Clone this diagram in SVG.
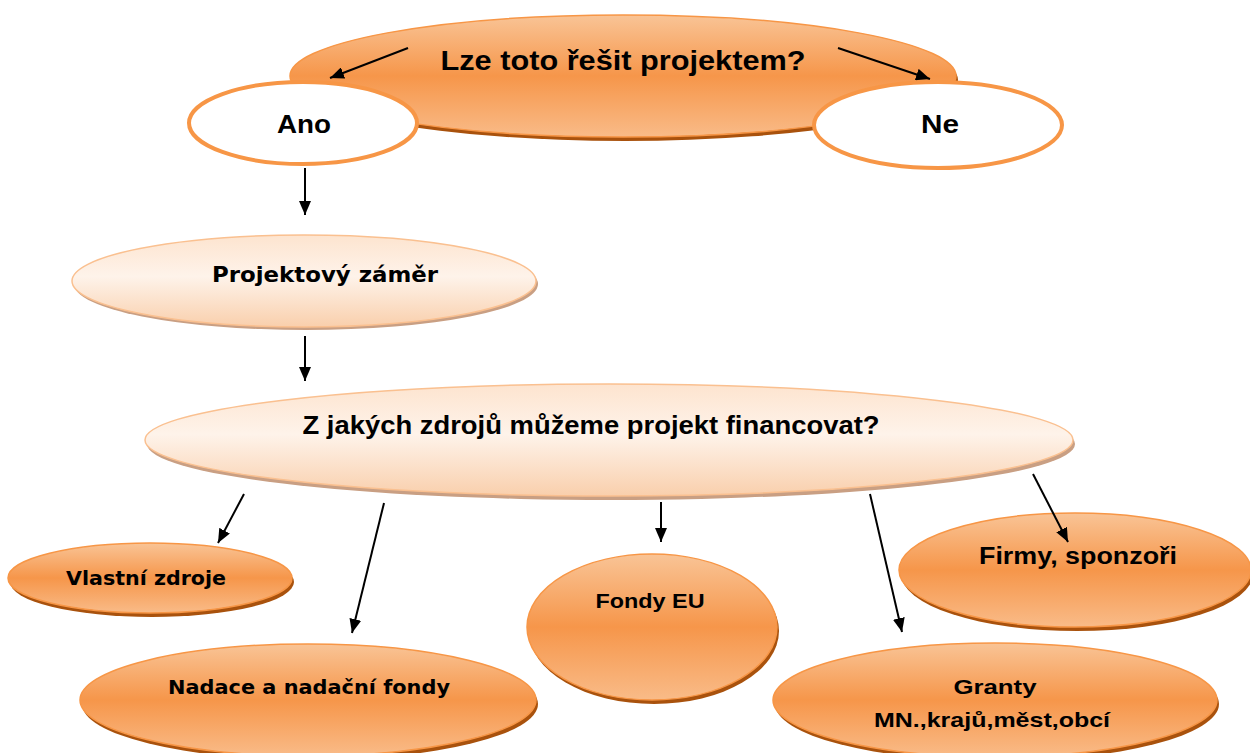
<svg xmlns="http://www.w3.org/2000/svg" width="1250" height="753" viewBox="0 0 1250 753">
<defs>
<linearGradient id="gOr" x1="0" y1="0" x2="0" y2="1">
<stop offset="0" stop-color="#f9c496"/>
<stop offset="0.5" stop-color="#f6964a"/>
<stop offset="1" stop-color="#f9bb88"/>
</linearGradient>
<linearGradient id="gPe" x1="0" y1="0" x2="0" y2="1">
<stop offset="0" stop-color="#fde4cf"/>
<stop offset="0.45" stop-color="#fef3ea"/>
<stop offset="1" stop-color="#f9cfac"/>
</linearGradient>
<marker id="ah" viewBox="0 0 14 12" refX="14" refY="6" markerWidth="14" markerHeight="12" markerUnits="userSpaceOnUse" orient="auto">
<path d="M0,0 L14,6 L0,12 Z" fill="#000"/>
</marker>
</defs>
<style>
.or{fill:url(#gOr);stroke:#f79646;stroke-width:1.5}
.orS{fill:#a9520d}
.pe{fill:url(#gPe);stroke:#fac090;stroke-width:1.5}
.peS{fill:#c99f83}
.wh{fill:#fff;stroke:#f79646;stroke-width:4}
.t{font-family:"Liberation Sans Narrow","Liberation Sans",Arial,sans-serif;font-weight:bold;fill:#000;text-anchor:middle}
.v{font-family:"DejaVu Sans",Verdana,sans-serif;font-weight:bold;fill:#000;text-anchor:middle}
.c{stroke:#000;stroke-width:2;fill:none;marker-end:url(#ah)}
</style>
<rect width="1250" height="753" fill="#fff"/>

<g id="n-question">
<ellipse class="orS" cx="625" cy="80" rx="333" ry="61"/>
<ellipse class="or" cx="623" cy="76" rx="333" ry="61"/>
<text class="t" x="623" y="70" font-size="27" textLength="365" lengthAdjust="spacingAndGlyphs">Lze toto řešit projektem?</text>
</g>
<g id="n-ano">
<ellipse class="wh" cx="303" cy="123" rx="114" ry="41"/>
<text class="t" x="304" y="133" font-size="26" textLength="54" lengthAdjust="spacingAndGlyphs">Ano</text>
</g>
<g id="n-ne">
<ellipse class="wh" cx="938" cy="125" rx="124" ry="43"/>
<text class="t" x="940" y="133" font-size="26" textLength="38" lengthAdjust="spacingAndGlyphs">Ne</text>
</g>
<g id="n-zamer">
<ellipse class="peS" cx="306" cy="284" rx="232" ry="46"/>
<ellipse class="pe" cx="304" cy="281" rx="232" ry="46"/>
<text class="v" x="325" y="282" font-size="21" textLength="226" lengthAdjust="spacingAndGlyphs">Projektový záměr</text>
</g>
<g id="n-zdroje">
<ellipse class="peS" cx="611" cy="444" rx="464" ry="56"/>
<ellipse class="pe" cx="609" cy="440" rx="464" ry="56"/>
<text class="t" x="591" y="434" font-size="26" textLength="577" lengthAdjust="spacingAndGlyphs">Z jakých zdrojů můžeme projekt financovat?</text>
</g>
<g id="n-vlastni">
<ellipse class="orS" cx="152" cy="582" rx="142" ry="35"/>
<ellipse class="or" cx="150" cy="578" rx="142" ry="35"/>
<text class="v" x="146" y="585" font-size="19" textLength="160" lengthAdjust="spacingAndGlyphs">Vlastní zdroje</text>
</g>
<g id="n-nadace">
<ellipse class="orS" cx="310" cy="704" rx="228" ry="56"/>
<ellipse class="or" cx="308" cy="700" rx="228" ry="56"/>
<text class="v" x="309" y="694" font-size="20" textLength="282" lengthAdjust="spacingAndGlyphs">Nadace a nadační fondy</text>
</g>
<g id="n-fondy">
<ellipse class="orS" cx="654" cy="631" rx="125" ry="73"/>
<ellipse class="or" cx="652" cy="627" rx="125" ry="73"/>
<text class="t" x="650" y="608" font-size="21" textLength="109" lengthAdjust="spacingAndGlyphs">Fondy EU</text>
</g>
<g id="n-granty">
<ellipse class="orS" cx="997" cy="704" rx="222" ry="57"/>
<ellipse class="or" cx="995" cy="700" rx="222" ry="57"/>
<text class="t" x="995" y="694" font-size="21" textLength="83" lengthAdjust="spacingAndGlyphs">Granty</text>
<text class="t" x="992" y="727" font-size="21" textLength="236" lengthAdjust="spacingAndGlyphs">MN.,krajů,měst,obcí</text>
</g>
<g id="n-firmy">
<ellipse class="orS" cx="1077" cy="574" rx="176" ry="57"/>
<ellipse class="or" cx="1075" cy="570" rx="176" ry="57"/>
<text class="t" x="1078" y="564" font-size="23" textLength="198" lengthAdjust="spacingAndGlyphs">Firmy, sponzoři</text>
</g>

<g id="connectors">
<line class="c" x1="408" y1="48" x2="330" y2="78"/>
<line class="c" x1="838" y1="48" x2="930" y2="79"/>
<line class="c" x1="305" y1="168" x2="305" y2="215"/>
<line class="c" x1="305" y1="336" x2="305" y2="381"/>
<line class="c" x1="244" y1="494" x2="218" y2="543"/>
<line class="c" x1="384" y1="503" x2="352" y2="633"/>
<line class="c" x1="661" y1="502" x2="661" y2="542"/>
<line class="c" x1="870" y1="494" x2="902" y2="632"/>
<line class="c" x1="1033" y1="474" x2="1068" y2="542"/>
</g>
</svg>
